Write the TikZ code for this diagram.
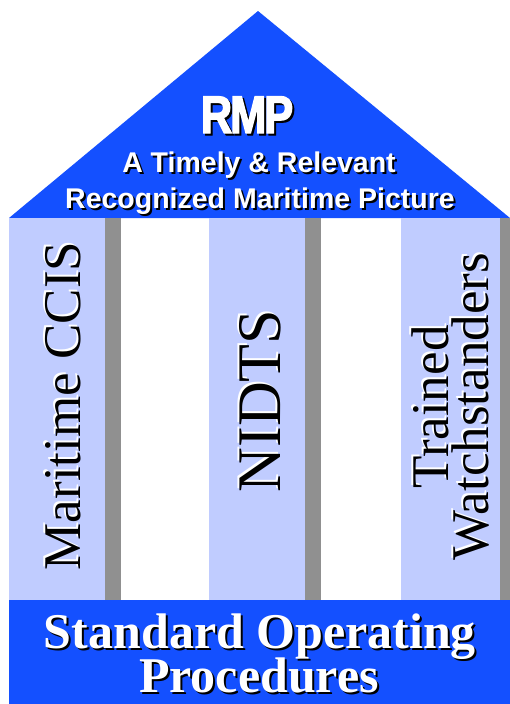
\documentclass[tikz,border=0pt]{standalone}
\usepackage{fontspec}
\setmainfont{Liberation Serif}
\newfontfamily\RmpNarrow[FakeStretch=0.82,FakeBold=2.5,LetterSpace=-4]{Liberation Sans}
\newfontfamily\RmpSans{Liberation Sans}
\definecolor{RmpBlue}{HTML}{1450FF}
\definecolor{RmpLightBlue}{HTML}{C0CCFF}
\definecolor{RmpGray}{HTML}{909090}

\begin{document}
\begin{tikzpicture}[x=1pt,y=-1pt,
    roof/.style={fill=RmpBlue},
    pillar/.style={fill=RmpLightBlue},
    pillarshade/.style={fill=RmpGray},
    roofhead/.style={inner sep=0pt,anchor=base,font=\RmpNarrow\bfseries\fontsize{53}{53}\selectfont},
    rooftext/.style={inner sep=0pt,anchor=base,font=\RmpSans\bfseries\fontsize{28.5}{30}\selectfont},
    pillartext/.style={inner sep=0pt,anchor=base,rotate=90,font=\fontsize{53}{53}\selectfont},
    basetext/.style={inner sep=0pt,anchor=base,font=\bfseries\fontsize{50}{50}\selectfont}
  ]
  \useasboundingbox (0,0) rectangle (510,704);

  \fill[roof] (9,218) -- (258,11) -- (510,218) -- cycle;
  \foreach \l/\r in {9/105,209/305,401/500}{
    \fill[pillar] (\l,218) rectangle (\r,600);
    \fill[pillarshade] (\r,218) rectangle (\r+16,600);
  }
  \fill[roof] (9,600) rectangle (510,704);

  \node[roofhead,text=black] (rmp-sh) at (249,135) {RMP};
  \node[roofhead,text=white] (rmp) at (247,133) {RMP};
  \node[rooftext,text=black] (timely-sh) at (261,174) {A Timely \& Relevant};
  \node[rooftext,text=white] (timely) at (259,172) {A Timely \& Relevant};
  \node[rooftext,text=black] (picture-sh) at (262,210) {Recognized Maritime Picture};
  \node[rooftext,text=white] (picture) at (260,208) {Recognized Maritime Picture};

  \node[pillartext,text=white] (ccis-sh) at (78,404) {Maritime CCIS};
  \node[pillartext,text=black] (ccis) at (80,406) {Maritime CCIS};
  \node[pillartext,font=\fontsize{62}{62}\selectfont,text=white] (nidts-sh) at (278,399) {NIDTS};
  \node[pillartext,font=\fontsize{62}{62}\selectfont,text=black] (nidts) at (280,401) {NIDTS};
  \node[pillartext,text=white] (trained-sh) at (446,405) {Trained};
  \node[pillartext,text=black] (trained) at (448,407) {Trained};
  \node[pillartext,text=white] (watch-sh) at (486,405) {Watchstanders};
  \node[pillartext,text=black] (watch) at (488,407) {Watchstanders};

  \node[basetext,text=black] (sop-sh) at (262,650) {Standard Operating};
  \node[basetext,text=white] (sop) at (260,648) {Standard Operating};
  \node[basetext,text=black] (proc-sh) at (261,694) {Procedures};
  \node[basetext,text=white] (proc) at (259,692) {Procedures};
\end{tikzpicture}
\end{document}
